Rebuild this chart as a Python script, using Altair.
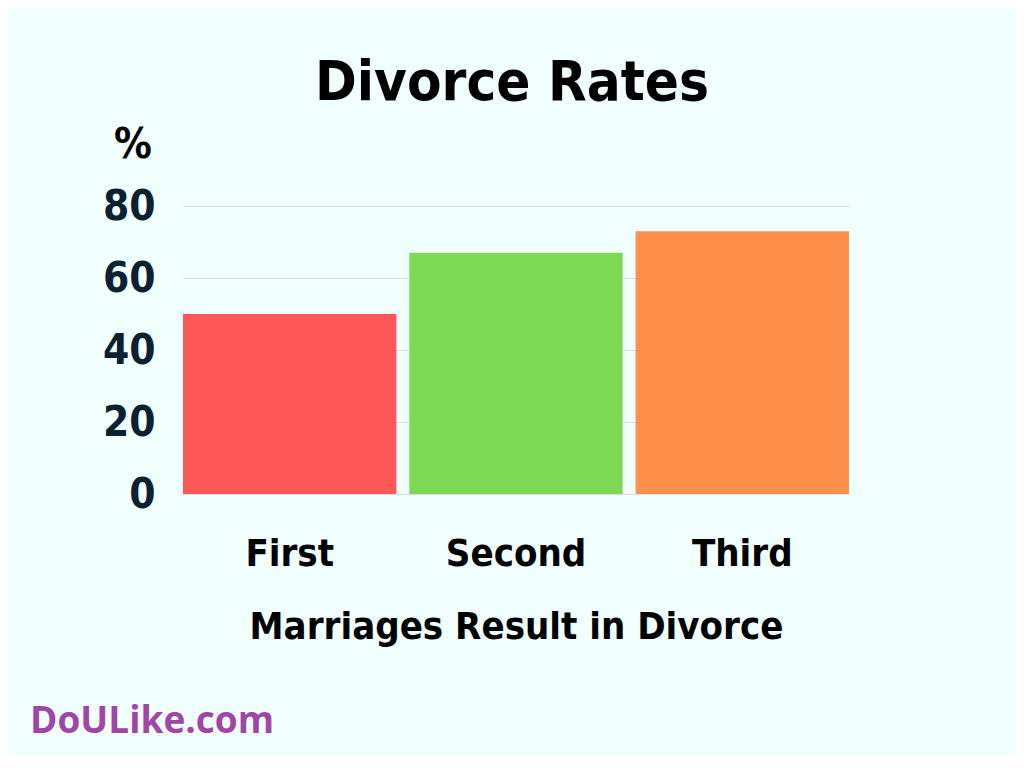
import altair as alt
import pandas as pd

categories = ["First", "Second", "Third"]
rates = [50, 67, 73]
bar_colors = ["#ff5757", "#7ed957", "#ff914d"]
y_ticks = [0, 20, 40, 60, 80]

NARROW = "DejaVu Sans Condensed, DejaVu Sans, sans-serif"
BG = "#f1fefe"
NAVY = "#0b2131"

df = pd.DataFrame({"marriage": categories, "rate": rates})

bars = alt.Chart(df).mark_bar().encode(
    x=alt.X(
        "marriage:N",
        sort=categories,
        scale=alt.Scale(paddingInner=0.057, paddingOuter=0),
        axis=alt.Axis(
            title="Marriages Result in Divorce",
            labelAngle=0,
            labelFont=NARROW,
            labelFontSize=38,
            labelFontWeight="bold",
            labelColor="#000000",
            labelPadding=41,
            titleFont=NARROW,
            titleFontSize=38,
            titleFontWeight="bold",
            titleColor="#000000",
            titlePadding=35,
            domain=False,
            ticks=False,
            grid=False,
        ),
    ),
    y=alt.Y(
        "rate:Q",
        scale=alt.Scale(domain=[0, 80]),
        axis=alt.Axis(
            values=y_ticks,
            title=None,
            labelFont=NARROW,
            labelFontSize=42,
            labelFontWeight="bold",
            labelColor=NAVY,
            labelPadding=28,
            domain=False,
            ticks=False,
            grid=True,
            gridColor="#d6e2e2",
            gridWidth=1,
        ),
    ),
    color=alt.Color(
        "marriage:N",
        scale=alt.Scale(domain=categories, range=bar_colors),
        legend=None,
    ),
)

title = alt.Chart(pd.DataFrame({"t": ["Divorce Rates"]})).mark_text(
    font=NARROW, fontSize=56, fontWeight="bold", color="#000000",
    align="center", baseline="alphabetic",
).encode(text="t:N", x=alt.value(329), y=alt.value(-106))

pct = alt.Chart(pd.DataFrame({"t": ["%"]})).mark_text(
    font=NARROW, fontSize=42, fontWeight="bold", color="#000000",
    align="center", baseline="alphabetic",
).encode(text="t:N", x=alt.value(-50), y=alt.value(-48))

brand = alt.Chart(pd.DataFrame({"t": ["DoULike.com"]})).mark_text(
    font="Open Sans", fontSize=37, fontWeight="bold", color="#a046a6",
    align="left", baseline="alphabetic",
).encode(text="t:N", x=alt.value(-153), y=alt.value(527))

chart = alt.layer(bars, title, pct, brand).properties(
    width=666,
    height=288,
    autosize=alt.AutoSizeParams(type="none"),
    padding={"left": 175, "top": 198, "right": 167, "bottom": 262},
    background=BG,
).configure_view(stroke=None)

chart.save("out.html", embed_options={"renderer": "svg", "actions": False})
